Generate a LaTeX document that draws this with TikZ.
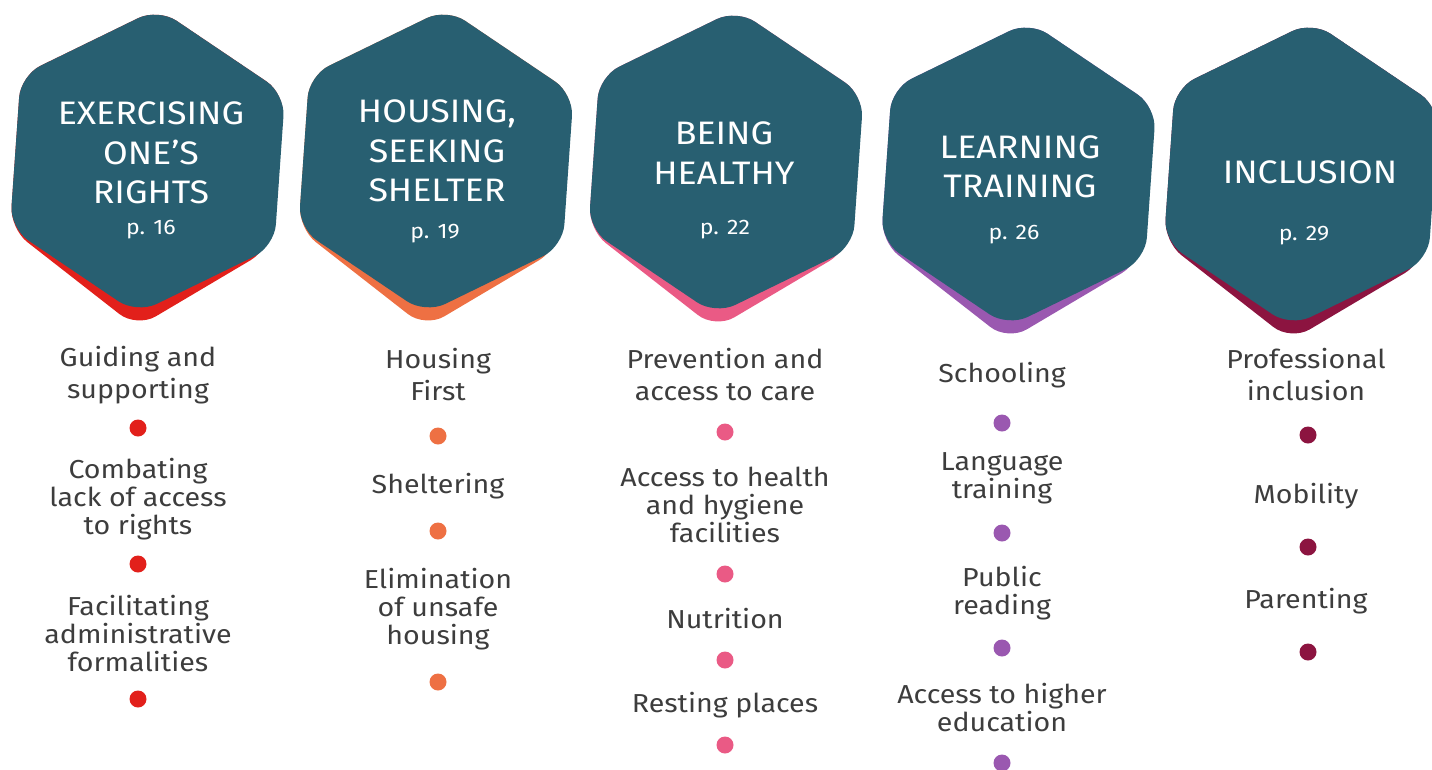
\documentclass[tikz,border=0pt]{standalone}
\usepackage{fontspec}
\setmainfont{Fira Sans}[FakeStretch=1.1]

\definecolor{hexdark}{HTML}{285F71}
\definecolor{txtgray}{HTML}{3D3D3D}
\definecolor{cred}{HTML}{E2201B}
\definecolor{corange}{HTML}{EE7043}
\definecolor{cpink}{HTML}{EA5A85}
\definecolor{cpurple}{HTML}{9A58B0}
\definecolor{cmaroon}{HTML}{8C1440}

\tikzset{
	pics/hexa/.style={code={
		\fill[#1, rounded corners=22pt] (-116:132.5) -- (10.7,-152.6) -- (137.5,-67.1) -- (122,88) -- (-10.7,166.6) -- (-137.5,67.6) -- (-126.8,-85.6) -- cycle;
		\fill[hexdark, rounded corners=22pt] (-116:132.5) -- (-86:153) -- (-26:153) -- (34:153) -- (94:153) -- (154:153) -- (214:153) -- cycle;
	}},
	title/.style={text=white, align=center, font=\fontsize{32.5}{39.5}\selectfont},
	pagenr/.style={text=white, font=\fontsize{21}{24}\selectfont},
	item/.style={text=txtgray, align=center, font=\fontsize{26}{28}\selectfont},
	itemtop/.style={text=txtgray, align=center, font=\fontsize{26}{32}\selectfont},
	dot/.style={circle, fill=#1, inner sep=0pt, minimum size=17pt},
}

\begin{document}
\begin{tikzpicture}[x=1pt, y=-1pt]

	\clip (0,0) rectangle (1432,769);

	\coordinate (c1) at (147.5,161);
	\coordinate (c2) at (436,161);
	\coordinate (c3) at (726,162);
	\coordinate (c4) at (1018.5,174);
	\coordinate (c5) at (1301.5,174);

	\pic at (c1) {hexa=cred};
	\pic at (c2) {hexa=corange};
	\pic at (c3) {hexa=cpink};
	\pic at (c4) {hexa=cpurple};
	\pic at (c5) {hexa=cmaroon};

	\node[title] (H1) at (151,153) {EXERCISING\\ONE’S\\RIGHTS};
	\node[pagenr] (p1) at (151,230) {p. 16};
	\node[title] (H2) at (437,151) {HOUSING,\\SEEKING\\SHELTER};
	\node[pagenr] (p2) at (435,234) {p. 19};
	\node[title] (H3) at (724,153) {BEING\\HEALTHY};
	\node[pagenr] (p3) at (725,230) {p. 22};
	\node[title] (H4) at (1020,167) {LEARNING\\TRAINING};
	\node[pagenr] (p4) at (1014,235) {p. 26};
	\node[title] (H5) at (1310,172) {INCLUSION};
	\node[pagenr] (p5) at (1304,236) {p. 29};

	% exercising one's rights
	\node[itemtop] (i11) at (138,375) {Guiding and\\supporting};
	\node[dot=cred] (d11) at (138,428) {};
	\node[item] (i12) at (138,499) {Combating\\lack of access\\to rights};
	\node[dot=cred] (d12) at (138,564) {};
	\node[item] (i13) at (138,634) {Facilitating\\administrative\\formalities};
	\node[dot=cred] (d13) at (138,699) {};

	% housing
	\node[itemtop] (i21) at (438,375) {Housing\\First};
	\node[dot=corange] (d21) at (438,436) {};
	\node[item] (i22) at (438,486) {Sheltering};
	\node[dot=corange] (d22) at (438,531) {};
	\node[item] (i23) at (438,609) {Elimination\\of unsafe\\housing};
	\node[dot=corange] (d23) at (438,682) {};

	% health
	\node[itemtop] (i31) at (725,375) {Prevention and\\access to care};
	\node[dot=cpink] (d31) at (725,432) {};
	\node[item] (i32) at (725,505) {Access to health\\and hygiene\\facilities};
	\node[dot=cpink] (d32) at (725,574) {};
	\node[item] (i33) at (725,619) {Nutrition};
	\node[dot=cpink] (d33) at (725,660) {};
	\node[item] (i34) at (725,705) {Resting places};
	\node[dot=cpink] (d34) at (725,745) {};

	% learning
	\node[item] (i41) at (1002,375) {Schooling};
	\node[dot=cpurple] (d41) at (1002,423) {};
	\node[item] (i42) at (1002,478) {Language\\training};
	\node[dot=cpurple] (d42) at (1002,533) {};
	\node[item] (i43) at (1002,593) {Public\\reading};
	\node[dot=cpurple] (d43) at (1002,648) {};
	\node[item] (i44) at (1002,708) {Access to higher\\education};
	\node[dot=cpurple] (d44) at (1002,763) {};

	% inclusion
	\node[itemtop] (i51) at (1306,375) {Professional\\inclusion};
	\node[dot=cmaroon] (d51) at (1308,435) {};
	\node[item] (i52) at (1306,496) {Mobility};
	\node[dot=cmaroon] (d52) at (1308,547) {};
	\node[item] (i53) at (1306,601) {Parenting};
	\node[dot=cmaroon] (d53) at (1308,652) {};

\end{tikzpicture}
\end{document}
